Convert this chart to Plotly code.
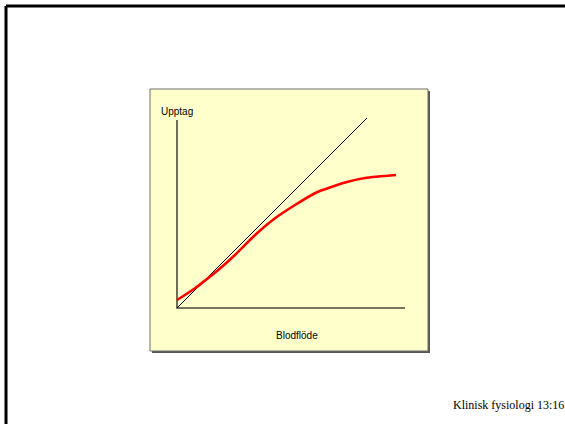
import plotly.graph_objects as go

# Data (arbitrary units: 1 unit of flow / uptake)
identity_x = [0, 10]
identity_y = [0, 10]

flow = [0, 0.95, 1.47, 2.17, 3.05, 4.11, 5.16, 6.21, 7.26, 7.79, 8.95, 9.89, 11.53]
uptake = [0.42, 1.04, 1.44, 2.0, 2.79, 3.84, 4.72, 5.42, 6.04, 6.25, 6.63, 6.84, 7.0]

axis_x = [0, 0, 12]
axis_y = [9.9, 0, 0]

W, H = 565, 424
PX = 19.0  # pixels per unit
ox, oy = 177, 308  # origin in pixels

fig = go.Figure()

fig.add_trace(go.Scatter(x=axis_x, y=axis_y, mode="lines",
                         line=dict(color="#4a4a3c", width=1.6), hoverinfo="skip"))
fig.add_trace(go.Scatter(x=identity_x, y=identity_y, mode="lines",
                         line=dict(color="black", width=1), hoverinfo="skip"))
fig.add_trace(go.Scatter(x=flow, y=uptake, mode="lines", line_shape="spline",
                         line=dict(color="#ff0000", width=2.6, smoothing=0.8), hoverinfo="skip"))

shapes = [
    # slide border (top and left)
    dict(type="line", xref="paper", yref="paper", x0=6/W, x1=1, y0=1-6/H, y1=1-6/H,
         line=dict(color="black", width=3)),
    dict(type="line", xref="paper", yref="paper", x0=6/W, x1=6/W, y0=0, y1=1-6/H,
         line=dict(color="black", width=3)),
    # shadow of box
    dict(type="rect", xref="paper", yref="paper", x0=152/W, x1=430/W, y0=1-353/H, y1=1-91/H,
         fillcolor="#555555", line=dict(width=0), layer="below"),
    # yellow box
    dict(type="rect", xref="paper", yref="paper", x0=150/W, x1=428/W, y0=1-351/H, y1=1-89/H,
         fillcolor="#ffffcc", line=dict(color="#6e6e6e", width=1), layer="below"),
]

annotations = [
    dict(text="Upptag", xref="paper", yref="paper", x=159/W, y=1-111/H,
         xanchor="left", yanchor="middle", showarrow=False,
         font=dict(family="Liberation Sans, Arial", size=10, color="black")),
    dict(text="Blodflöde", xref="paper", yref="paper", x=297/W, y=1-335/H,
         xanchor="center", yanchor="middle", showarrow=False,
         font=dict(family="Liberation Sans, Arial", size=10, color="black")),
    dict(text="Klinisk fysiologi 13:16", xref="paper", yref="paper", x=451/W, y=1-404.5/H,
         xanchor="left", yanchor="middle", showarrow=False,
         font=dict(family="Liberation Serif, Times New Roman", size=12, color="black")),
]

fig.update_layout(
    width=W, height=H,
    margin=dict(l=0, r=0, t=0, b=0),
    paper_bgcolor="white", plot_bgcolor="rgba(0,0,0,0)",
    showlegend=False,
    xaxis=dict(range=[(0-ox)/PX, (W-ox)/PX], visible=False, fixedrange=True),
    yaxis=dict(range=[(oy-H)/PX, oy/PX], visible=False, fixedrange=True),
    shapes=shapes, annotations=annotations,
)

fig.write_html("out.html",
               post_script="document.body.style.margin='0';document.body.style.overflow='hidden';",
               config={"displayModeBar": False})
